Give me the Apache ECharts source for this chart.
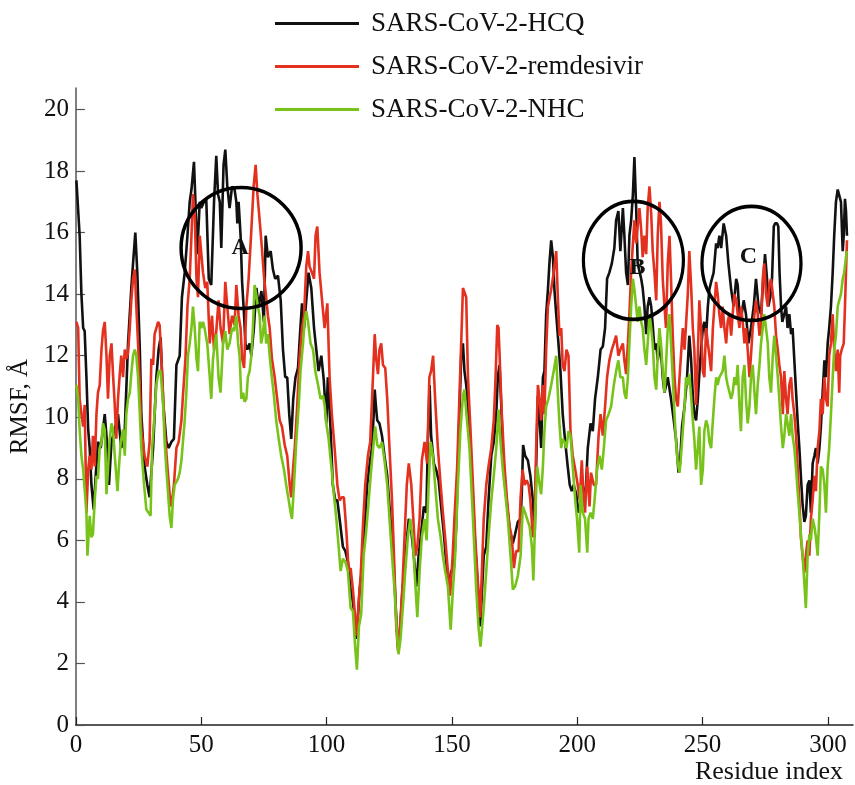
<!DOCTYPE html>
<html>
<head>
<meta charset="utf-8">
<title>RMSF</title>
<script src="https://cdn.jsdelivr.net/npm/echarts@6/dist/echarts.min.js"></script>
<style>
  html, body { margin: 0; padding: 0; background: #fff; }
  #chart { width: 855px; height: 785px; }
</style>
</head>
<body>
<div id="chart"></div>
<script>
// RMSF per residue as [residue, RMSF]
var hcq = [
  [0.2,17.7],[1.5,15.9],[2.2,14.0],[2.9,12.9],[3.5,12.8],[4.2,11.3],[4.9,9.6],[5.5,9.0],[6.2,7.8],[7.1,7.0],[7.9,8.1],[8.8,9.2],[9.9,9.0],[10.8,9.6],[11.5,10.1],[12.6,9.0],[13.2,7.8],[14.2,9.2],[15.5,9.6],[16.8,10.1],[18.1,9.0],[19.5,9.6],[20.8,12.4],[22.1,14.2],[22.8,15.0],[23.7,16.0],[24.5,14.7],[25.5,12.2],[26.1,10.1],[27.4,8.4],[28.5,7.8],[29.4,7.4],[30.8,9.0],[32.1,11.3],[33.0,12.2],[33.8,12.6],[34.8,10.5],[36.1,9.2],[37.0,9.0],[38.1,9.2],[39.1,9.3],[40.1,11.7],[41.4,12.0],[42.3,13.9],[43.4,14.7],[44.5,15.9],[45.4,17.0],[46.1,17.4],[47.1,18.3],[47.6,17.2],[48.4,15.3],[49.4,17.0],
  [50,16.8],[51.1,17.0],[52,17.1],[53,14.5],[54,14.3],[55.1,17.0],[56,18.5],[56.7,17.25],[57.4,17.0],[58,15.5],[58.9,18.2],[59.6,18.7],[60.4,17.5],[61.3,16.8],[62.3,17.5],[63.3,17.4],[64,17.0],[64.4,16.3],[64.9,17.0],[65.7,15.9],[66.3,14.4],[67.1,13.3],[67.6,12.4],[68.4,12.2],[69.3,12.4],[70,12.0],[71,12.9],[72,14.2],[72.9,13.6],[74,14.1],[75,13.1],[75.7,15.9],[76.6,15.2],[77.7,15.4],[78.6,14.8],[79.5,14.5],[80.6,14.6],[81.7,13.8],[82.6,12.2],[83.5,11.3],[84.3,11.3],[85.1,10.1],[85.9,9.3],[86.7,10.6],[87.6,11.3],[88.6,11.6],[89.4,12.7],[90.2,13.7],[91,12.9],[91.9,13.8],[92.8,14.7],[93.9,14.2],[95,12.9],[95.9,12.2],[96.8,11.5],[97.9,12.0],[98.9,11.2],[99.9,9.8],[100.5,11.3],[101.6,9.6],[102.5,7.8],[103.5,7.3],[104.3,7.3],[105.2,6.7],
  [106.5,5.8],[107.5,5.65],[108.5,5.3],[109.6,4.4],[110.5,4.0],[111.2,3.5],[111.8,2.8],[112.5,3.5],[113.2,4.4],[113.8,4.85],[114.5,5.5],[115.2,6.45],[116.2,7.8],[117.2,8.5],[118.1,9.0],[118.8,10.1],[119.2,10.9],[119.7,10.35],[120.2,9.9],[121.1,9.8],[122.1,9.4],[123.1,8.75],[124.2,8.1],[125.1,7.1],[126.1,6.1],[126.9,5.0],[127.8,3.5],[128.5,2.55],[129.3,3.0],[130.2,4.3],[131.1,5.0],[132.0,6.0],[132.8,6.7],[133.8,6.3],[134.8,5.5],[135.8,4.5],[136.7,5.5],[137.8,6.3],[138.8,7.1],[139.8,6.9],[140.4,9.2],[141.1,11.05],[141.7,9.4],[142.8,8.5],[143.7,8.3],[144.7,7.95],[145.7,7.1],[146.8,6.2],[147.7,5.3],[148.7,4.5],[149.7,5.0],[150.8,5.1],[151.7,6.45],[152.4,8.4],[153.0,10.1],[153.7,12.0],[154.4,12.4],[155.0,11.5],[155.7,11.05],[156.4,10.35],[157.4,9.0],[158.4,7.3],[159.3,5.8],[160.4,4.4],[161.3,3.2],
  [162.7,5.5],[163.7,5.8],[164.6,7.3],[165.7,8.75],[166.7,9.2],[167.7,10.1],[168.3,11.3],[169.0,11.7],[169.7,10.35],[170.3,9.0],[171.2,7.8],[172.3,6.9],[173.4,6.1],[174.3,5.9],[175.2,6.2],[176.3,6.6],[177.4,6.7],[177.9,7.6],[178.4,9.1],[179.2,8.75],[180.3,8.6],[181.3,8.1],[182.3,7.3],[183.0,6.1],[183.6,8.4],[184.3,10.7],[185.0,9.9],[185.6,9.0],[186.3,11.3],[186.9,11.5],[187.6,13.35],[188.3,14.15],[188.9,15.0],[189.6,15.75],[190.3,15.2],[190.9,14.15],[191.6,13.35],[192.5,12.4],[193.3,11.5],[194.2,10.1],[195.2,9.2],[196.2,8.4],[197.0,7.8],[197.8,7.6],[198.6,7.8],[199.6,7.5],[200.5,6.9],[201.6,7.3],[202.6,7.4],[203.5,7.8],[204.2,9.0],[205.3,9.8],[206.2,9.55],[207.1,10.6],[208.2,11.3],[209.3,12.2],[210.2,12.3],[211.1,12.9],[211.9,14.5],[212.8,14.7],[213.8,15.0],[214.8,15.5],[215.5,16.4],[216.4,16.7],[217.2,15.4],
  [218.2,16.8],[218.8,15.9],[219.5,14.7],[220.2,14.3],[220.8,15.9],[221.5,16.4],[222.2,17.25],[222.8,18.46],[223.5,16.8],[224.1,15.0],[224.8,15.0],[225.5,14.5],[226.1,14.2],[226.8,13.6],[227.5,12.7],[228.1,13.6],[228.8,13.9],[229.5,13.6],[230.1,13.0],[230.8,12.2],[231.5,12.4],[232.1,11.85],[233.2,12.4],[234.1,11.3],[234.8,10.8],[236.1,11.3],[237.4,10.6],[238.5,9.9],[239.4,9.3],[240.4,8.2],[241.0,8.5],[241.8,9.7],[242.8,10.35],[243.8,11.3],[244.7,12.65],[245.4,11.9],[246.1,10.7],[246.7,10.1],[247.4,9.9],[248.1,10.6],[248.7,11.4],[249.4,12.2],[250.1,12.9],[250.7,13.1],[251.4,12.65],[252.1,13.6],[252.7,14.15],[253.4,14.4],[254.4,14.7],[255.4,15.65],[256.0,15.5],[256.7,15.9],[257.4,15.5],[258.4,16.3],[259.4,15.9],[260.3,15.0],[261.4,14.15],[262.4,13.6],[263.4,14.5],[264.0,14.3],[264.8,13.2],[265.6,13.35],[266.4,13.8],[267.3,13.35],[268.3,12.4],[269.3,12.9],[270.4,13.6],[271.3,14.5],[272.3,13.6],
  [273.3,13.35],[274.4,14.7],[274.9,15.3],[275.7,14.5],[276.2,13.6],[277.0,13.9],[277.7,14.5],[278.4,16.2],[278.9,16.3],[279.7,16.3],[280.2,16.2],[280.7,14.7],[281.3,13.6],[281.8,13.1],[282.6,13.35],[283.3,13.6],[283.9,12.9],[284.6,13.35],[285.3,12.7],[285.9,12.9],[286.6,11.85],[287.3,10.8],[287.9,9.9],[288.6,9.0],[289.2,8.1],[289.9,7.15],[290.6,6.6],[291.2,6.8],[291.9,7.8],[292.6,7.95],[293.2,6.9],[293.9,8.5],[294.6,8.75],[295.2,9.0],[295.9,8.5],[296.6,9.0],[297.2,9.7],[297.9,10.8],[298.6,11.85],[299.2,11.3],[299.9,12.4],[300.5,12.9],[301.2,13.6],[301.9,14.7],[302.5,15.9],[303.2,17.0],[303.9,17.4],[304.5,17.4],[305.2,17.0],[305.9,15.4],[306.3,15.9],[306.8,17.1],[307.2,16.7],[307.6,15.9]
];

var remdesivir = [
  [0.2,13.1],[0.9,12.9],[1.5,10.6],[2.2,10.1],[2.9,9.7],[3.5,10.4],[4.2,6.9],[4.9,8.3],[5.5,8.75],[6.2,8.3],[6.8,9.4],[7.5,8.4],[8.2,10.1],[8.8,10.8],[9.5,11.05],[10.2,12.2],[10.8,12.8],[11.5,13.1],[12.2,12.0],[12.8,10.6],[13.5,12.0],[14.2,12.4],[14.8,11.4],[15.5,10.4],[16.1,9.3],[16.8,10.6],[17.5,11.4],[18.1,12.0],[18.8,11.3],[19.5,12.2],[20.1,11.9],[20.8,12.1],[21.5,12.9],[22.1,13.8],[22.8,14.5],[23.5,14.8],[24.1,13.6],[24.8,12.4],[25.5,11.05],[26.1,9.6],[27.4,8.75],[28.5,8.4],[29.4,9.2],[30.1,11.9],[30.8,11.7],[31.4,12.7],[32.1,12.9],[32.8,13.1],[33.4,13.0],[34.1,11.9],[34.8,10.7],[35.4,9.6],[36.5,8.4],[37.4,7.5],[38.1,7.1],[39.1,7.8],[40.1,9.0],[41.0,9.2],[42.1,9.9],[42.7,10.7],[43.7,11.9],[44.5,13.6],[45.4,14.5],[46.1,15.9],[46.7,17.25],[47.4,16.6],[48.1,14.5],[48.7,13.9],[49.4,15.9],
  [50,15.9],[50.7,14.7],[51.6,14.2],[52.4,14.4],[53.4,12.4],[54.3,13.3],[55.1,12.2],[56,12.8],[56.9,13.8],[57.7,12.9],[58.7,12.4],[59.6,14.4],[60.4,13.6],[61.3,12.7],[62.3,13.3],[63.3,13.0],[64,14.3],[64.9,13.3],[65.7,12.9],[66.3,11.9],[67.1,11.6],[68,13.6],[68.9,14.5],[70,16.1],[70.9,17.5],[71.7,18.2],[72.4,17.25],[73.3,16.4],[74.2,15.5],[75,14.6],[75.9,13.9],[76.6,13.3],[77.3,12.9],[78.2,11.9],[79.3,11.3],[80.3,10.6],[81.3,9.9],[82.2,9.7],[83.3,9.1],[84.3,8.75],[85.3,7.8],[85.9,7.4],[86.6,8.3],[87.3,9.0],[88.3,10.4],[89.2,11.9],[90.2,12.9],[91,13.3],[91.9,14.9],[92.6,15.4],[93.2,14.9],[94.2,14.7],[95,14.5],[95.6,15.9],[96.3,16.2],[97.2,14.7],[98.2,13.8],[99.2,12.9],[100.3,13.7],[101.2,11.3],[102.1,10.1],[103.2,9.0],[104.3,7.8],[105.2,7.3],
  [106.1,7.4],[106.9,7.4],[107.9,6.3],[108.8,5.0],[109.6,5.1],[110.5,4.4],[111.4,3.5],[112,2.9],[112.8,4.0],[113.6,4.85],[114.5,6.45],[115.4,7.8],[116.5,8.75],[117.4,9.2],[118.5,11.3],[119.2,12.7],[119.8,11.9],[120.5,11.4],[121.1,12.2],[121.8,12.4],[122.5,11.7],[123.4,11.6],[124.2,10.6],[125.1,9.0],[126.1,7.3],[126.9,5.5],[127.8,3.2],[128.5,2.4],[129.3,3.2],[130.2,4.4],[131.1,6.1],[132.0,7.8],[132.8,8.5],[133.8,7.8],[134.6,6.7],[135.4,5.5],[136.2,5.8],[137.1,6.7],[138.0,8.6],[139.1,9.2],[140.1,8.5],[141.0,11.3],[141.7,11.5],[142.5,12.0],[143.3,10.6],[144.4,9.0],[145.5,7.8],[146.4,6.9],[147.3,6.1],[148.4,5.0],[149.3,4.2],[150.3,5.5],[151.0,6.7],[152.1,8.4],[153.0,10.7],[153.7,12.4],[154.4,14.2],[155.0,14.15],[155.7,13.9],[156.4,11.3],[157.4,9.6],[158.4,7.8],[159.3,6.1],[160.4,4.6],[161.3,3.5],
  [162.7,6.7],[163.7,7.8],[164.6,8.4],[165.7,9.0],[166.7,9.9],[167.3,11.05],[168.1,13.0],[168.6,12.9],[169.1,11.85],[169.9,10.1],[171.0,8.4],[172.0,7.3],[173.0,6.45],[173.9,6.1],[174.7,5.1],[175.6,5.65],[176.6,5.65],[177.4,7.4],[178.2,8.3],[179.0,7.8],[179.8,7.95],[180.6,7.8],[181.3,7.3],[182.3,6.1],[183.0,6.7],[183.6,9.0],[184.3,11.05],[185.0,10.6],[185.6,9.9],[186.3,11.05],[186.9,10.1],[187.6,12.2],[188.3,13.6],[189.6,14.15],[190.6,14.7],[191.6,15.4],[192.3,13.8],[192.9,12.65],[193.6,12.9],[194.2,11.7],[194.9,11.5],[195.7,12.2],[196.5,12.0],[197.3,9.55],[198.2,8.75],[199.2,8.3],[200.2,7.8],[201.0,7.3],[201.8,8.6],[202.6,7.3],[203.1,6.9],[204.0,8.4],[204.9,7.1],[205.5,8.2],[206.6,7.8],[207.5,7.8],[208.5,9.4],[209.3,10.1],[210.2,9.4],[211.1,10.35],[211.9,11.3],[212.8,11.85],[213.8,12.2],[214.6,12.4],[215.5,12.65],[216.4,12.0],[217.2,12.2],
  [218.2,12.4],[218.8,11.85],[219.5,11.4],[220.2,12.4],[220.8,13.35],[221.5,14.7],[222.2,15.65],[222.8,16.4],[223.5,15.65],[224.1,16.2],[224.8,16.8],[225.5,16.1],[226.1,15.2],[226.8,15.9],[227.5,15.3],[228.1,16.8],[228.8,17.5],[229.5,16.6],[230.1,15.4],[230.8,14.7],[231.5,13.8],[232.1,15.9],[232.8,17.0],[233.4,16.3],[234.1,14.5],[234.8,13.6],[235.4,12.9],[236.1,15.0],[236.8,15.9],[237.4,14.5],[238.1,12.65],[238.8,11.3],[239.4,10.6],[240.1,10.35],[240.8,11.3],[241.4,11.3],[242.1,12.9],[242.8,12.2],[243.4,12.2],[244.1,14.0],[244.7,15.4],[245.4,14.3],[246.1,12.9],[246.7,12.2],[247.4,10.4],[248.1,12.0],[248.7,13.8],[249.4,12.9],[250.1,11.5],[250.7,11.3],[251.4,12.9],[252.1,12.4],[252.7,12.0],[253.4,11.5],[254.1,12.9],[254.7,13.6],[255.4,14.4],[256.0,14.0],[256.7,13.35],[257.4,12.9],[258.0,13.6],[258.7,12.9],[259.4,12.4],[260.0,13.1],[260.7,13.35],[261.4,12.65],[262.0,13.35],[262.7,14.0],[263.4,13.8],[264.0,13.35],[264.7,12.9],[265.3,13.6],[266.0,13.1],[266.7,12.4],[267.3,12.9],[268.0,12.2],[268.7,11.3],[269.3,12.0],[270.0,12.9],[270.7,13.35],[271.3,13.8],[272.0,13.35],[272.7,12.65],
  [273.3,12.9],[274.0,14.5],[274.6,15.0],[275.3,14.0],[276.0,13.6],[276.6,14.3],[277.3,14.5],[278.0,14.0],[278.6,13.6],[279.3,12.65],[280.0,12.2],[280.6,11.7],[281.3,11.3],[282.0,10.1],[282.6,11.5],[283.3,10.6],[283.9,10.1],[284.6,11.05],[285.3,11.3],[285.9,10.6],[286.6,10.1],[287.3,9.4],[287.9,8.4],[288.6,7.3],[289.2,6.1],[289.9,5.5],[290.6,4.95],[291.2,5.5],[291.9,6.0],[292.6,5.5],[293.2,6.7],[293.9,7.3],[294.6,8.1],[295.2,7.6],[295.9,9.0],[296.6,9.55],[297.2,10.6],[297.9,10.1],[298.6,11.3],[299.2,10.6],[299.9,10.35],[300.5,12.0],[301.2,12.4],[301.9,13.35],[302.5,12.2],[303.2,11.5],[303.9,12.2],[304.5,10.8],[304.9,12.0],[305.5,12.2],[306.3,12.4],[306.8,13.6],[307.2,14.7],[307.6,15.75]
];

var nhc = [
  [0.2,11.05],[0.9,10.6],[1.5,9.6],[2.2,8.75],[2.9,8.3],[3.5,8.3],[4.2,6.9],[4.6,5.5],[5.5,6.8],[6.2,6.1],[6.8,6.2],[7.5,7.3],[8.2,8.1],[8.8,8.0],[9.5,9.0],[10.2,9.2],[10.8,9.8],[11.5,9.6],[12.2,7.5],[12.8,8.3],[13.5,9.3],[14.2,9.8],[14.8,9.6],[15.5,8.75],[16.6,7.6],[17.1,8.3],[17.9,9.2],[18.8,9.6],[19.5,8.75],[20.1,10.1],[20.8,10.6],[21.5,10.8],[22.1,11.4],[22.8,12.0],[23.5,12.2],[24.1,12.0],[24.8,11.3],[25.5,10.1],[26.1,9.0],[27.2,7.8],[28.1,7.0],[29.0,6.9],[29.8,6.8],[30.4,9.0],[31.2,9.9],[32.1,11.05],[33.0,11.5],[33.8,11.5],[34.8,10.4],[35.4,9.2],[36.1,8.3],[36.8,7.5],[37.4,6.8],[38.1,6.4],[38.7,7.3],[39.4,7.8],[40.1,7.9],[40.7,8.0],[41.4,8.2],[42.1,8.6],[42.7,9.2],[43.4,9.9],[44.0,10.7],[44.7,12.0],[45.4,12.4],[46.1,12.9],[46.7,13.6],[47.4,12.9],[48.1,11.9],[48.7,11.5],[49.4,13.1],
  [50,12.9],[50.7,13.1],[51.3,12.9],[52.4,12.4],[53.4,11.3],[54,10.6],[54.7,11.9],[55.4,12.4],[56,12.7],[56.9,11.3],[57.7,10.8],[58.7,12.4],[59.6,12.8],[60.4,12.2],[61.3,12.4],[62.3,12.9],[63.1,12.8],[64,13.3],[64.7,12.4],[65.3,12.0],[66,10.6],[66.7,10.8],[67.3,10.5],[68,10.6],[68.6,11.3],[69.3,11.5],[70,12.0],[70.6,12.9],[71.3,14.3],[71.9,14.0],[72.6,13.6],[73.3,13.3],[73.9,12.4],[74.6,12.7],[75.3,13.3],[75.9,12.4],[76.6,12.7],[77.3,12.0],[77.9,11.5],[79,10.7],[79.9,9.9],[80.9,9.3],[81.9,8.75],[83,8.3],[83.9,7.8],[84.9,7.3],[85.7,6.9],[86.2,6.7],[87,7.8],[87.9,9.2],[88.9,10.4],[89.6,11.5],[90.6,12.4],[91.2,13.1],[91.9,13.45],[92.6,13.1],[93.6,12.4],[94.6,12.2],[95.5,11.5],[96.6,11.05],[97.6,10.6],[98.6,10.7],[99.2,10.4],[99.9,9.8],[100.8,9.3],[101.9,8.4],[102.9,7.5],[103.9,6.7],[104.8,5.8],[105.6,5.0],
  [106.5,5.4],[107.5,5.3],[108.5,5.0],[109.6,3.8],[110.5,3.7],[111.4,2.55],[112.1,1.8],[112.9,3.2],[113.8,3.6],[114.8,5.5],[115.8,6.3],[116.8,7.3],[117.8,8.3],[118.8,9.2],[119.4,9.7],[120.2,9.1],[121.1,9.0],[122.1,9.2],[123.1,8.6],[124.2,7.8],[125.1,6.7],[126.1,5.5],[127.1,4.4],[127.9,3.2],[128.7,2.3],[129.5,2.8],[130.4,3.8],[131.4,5.0],[132.4,6.1],[133.4,6.7],[134.3,6.1],[135.1,5.0],[136.2,3.5],[137.1,5.0],[138.0,6.1],[139.1,6.7],[139.9,6.0],[140.7,7.8],[141.5,9.2],[142.4,8.75],[143.3,7.8],[144.4,6.7],[145.5,6.1],[146.4,5.5],[147.3,5.0],[148.4,4.5],[149.5,3.1],[150.4,4.4],[151.3,5.5],[152.4,7.8],[153.4,9.6],[154.4,10.7],[155.0,10.9],[155.8,10.1],[157.0,9.0],[158.4,6.7],[159.7,4.4],[160.6,3.2],[161.4,2.55],
  [162.7,3.8],[163.7,5.0],[164.6,6.1],[165.7,7.3],[166.7,8.1],[167.7,9.0],[168.6,10.25],[169.4,9.2],[170.3,8.3],[171.2,7.6],[172.3,6.7],[173.4,5.5],[174.3,4.4],[175.2,4.5],[176.3,4.85],[177.4,5.5],[178.3,7.1],[179.2,6.9],[180.0,6.7],[181.0,6.45],[181.9,5.8],[182.5,4.7],[183.2,6.7],[184.0,8.4],[185.0,7.8],[185.6,7.5],[186.3,8.4],[186.9,9.55],[187.6,10.35],[188.5,10.6],[189.6,11.05],[190.6,11.5],[191.6,12.0],[192.3,10.7],[192.9,9.8],[193.6,9.0],[194.2,9.3],[194.9,9.2],[195.7,9.0],[196.5,9.55],[197.3,9.4],[198.2,8.4],[199.2,7.3],[199.9,6.7],[200.8,5.6],[201.3,7.8],[202.2,6.9],[203.1,6.7],[204.0,5.6],[204.5,6.7],[205.3,6.9],[206.2,6.7],[206.9,7.3],[207.9,8.3],[208.9,8.75],[209.8,8.3],[210.6,9.0],[211.5,9.9],[212.5,10.1],[213.5,10.35],[214.6,11.05],[215.5,11.5],[216.4,11.85],[217.2,11.3],
  [218.2,11.3],[218.8,10.8],[219.5,10.6],[220.2,11.3],[220.8,12.4],[221.5,13.6],[222.2,14.5],[222.8,14.15],[223.5,13.6],[224.1,13.1],[224.8,13.6],[225.5,13.1],[226.1,12.9],[226.8,12.2],[227.5,11.7],[228.1,12.4],[228.8,13.35],[229.5,12.9],[230.1,12.4],[230.8,11.3],[231.5,10.9],[232.1,12.0],[232.8,12.9],[233.4,12.4],[234.1,11.5],[234.8,10.8],[235.4,11.7],[236.1,12.9],[236.8,13.35],[237.4,12.4],[238.1,11.3],[238.8,10.1],[239.4,9.2],[240.1,8.5],[240.8,8.2],[241.4,8.75],[242.1,9.55],[242.8,10.35],[243.4,11.3],[244.1,11.05],[244.7,11.4],[245.4,10.7],[246.1,9.9],[246.7,9.3],[247.4,8.3],[248.1,9.0],[248.7,9.7],[249.4,7.8],[250.1,8.3],[250.7,9.55],[251.4,9.9],[252.1,9.7],[252.7,9.2],[253.4,9.0],[254.1,9.9],[254.7,10.6],[255.4,11.3],[256.0,11.05],[256.7,11.3],[257.4,11.3],[258.0,11.5],[258.7,12.0],[259.4,11.3],[260.0,11.05],[260.7,11.05],[261.4,10.6],[262.0,10.8],[262.7,11.3],[263.4,11.05],[264.0,11.7],[264.7,10.35],[265.3,9.55],[266.0,11.3],[266.7,11.7],[267.3,10.6],[268.0,9.8],[268.7,10.35],[269.3,11.3],[270.0,11.7],[270.7,10.8],[271.3,10.1],[272.0,11.05],[272.7,11.7],
  [273.3,12.4],[274.0,12.9],[274.6,13.35],[275.3,12.9],[276.0,12.4],[276.6,11.3],[277.3,10.8],[278.0,12.0],[278.6,12.65],[279.3,12.0],[280.0,11.3],[280.6,10.6],[281.3,9.7],[282.0,9.0],[282.6,9.4],[283.3,10.1],[283.9,9.8],[284.6,9.4],[285.3,10.1],[285.9,9.4],[286.6,9.0],[287.3,8.3],[287.9,7.6],[288.6,6.9],[289.2,6.2],[289.9,5.5],[290.6,4.6],[291.2,3.8],[291.9,5.5],[292.6,6.2],[293.2,6.0],[293.9,6.7],[294.6,6.45],[295.2,6.1],[295.9,5.5],[296.6,6.9],[297.2,8.4],[297.9,8.3],[298.6,7.8],[299.2,6.9],[299.9,8.4],[300.5,9.0],[301.2,10.1],[301.9,11.3],[302.5,12.2],[303.2,12.65],[303.9,13.6],[304.5,13.8],[305.2,14.0],[305.9,14.5],[306.5,14.7],[307.2,15.2],[307.6,15.4]
];

var seriesNames = ['SARS-CoV-2-HCQ', 'SARS-CoV-2-remdesivir', 'SARS-CoV-2-NHC'];
var xTicks = [0, 50, 100, 150, 200, 250, 300];
var yTicks = [0, 2, 4, 6, 8, 10, 12, 14, 16, 18, 20];

// highlighted regions: label, residue, RMSF at the centre
var regionLabels = ['A', 'B', 'C'];
var regionCenters = [[65.9, 15.5], [222.4, 15.1], [269.5, 15.0]];

var serif = 'Liberation Serif';
var colors = ['#111111', '#e3301f', '#78c31a'];
var ringSize = [[120, 121], [100, 118], [99, 114]];
var ringLabelOffset = [[-1, 0], [4, 7], [-3, -7]];

var chart = echarts.init(document.getElementById('chart'));

var lineData = [hcq, remdesivir, nhc];
var series = [];
for (var i = 0; i < 3; i++) {
  series.push({
    name: seriesNames[i],
    type: 'line',
    data: lineData[i],
    showSymbol: false,
    symbol: 'none',
    lineStyle: { color: colors[i], width: 2.6 },
    itemStyle: { color: colors[i] },
    z: 2 + i
  });
}

var rings = [];
for (var j = 0; j < regionLabels.length; j++) {
  rings.push({
    name: regionLabels[j],
    value: regionCenters[j],
    symbolSize: ringSize[j],
    label: { offset: ringLabelOffset[j] }
  });
}
series.push({
  type: 'scatter',
  data: rings,
  symbol: 'circle',
  itemStyle: { color: 'rgba(0,0,0,0)', borderColor: '#000', borderWidth: 3.5, opacity: 1 },
  label: {
    show: true,
    position: 'inside',
    formatter: '{b}',
    fontFamily: serif,
    fontSize: 24,
    fontWeight: 'bold',
    color: '#111'
  },
  silent: true,
  z: 10
});

chart.setOption({
  animation: false,
  backgroundColor: '#fff',
  legend: {
    data: seriesNames,
    orient: 'vertical',
    left: 270,
    top: 5,
    icon: 'rect',
    itemWidth: 84,
    itemHeight: 3,
    itemGap: 16,
    textStyle: {
      fontFamily: serif,
      fontSize: 27,
      lineHeight: 27,
      color: '#111',
      padding: [0, 0, 0, 7]
    }
  },
  grid: { left: 74, right: 2, top: 88, bottom: 55 },
  xAxis: {
    type: 'value',
    min: 0,
    max: 310,
    interval: 50,
    name: 'Residue index',
    nameLocation: 'end',
    nameGap: -10,
    nameTextStyle: {
      fontFamily: serif,
      fontSize: 26,
      color: '#111',
      align: 'right',
      verticalAlign: 'top',
      padding: [34, 0, 0, 0]
    },
    splitLine: { show: false },
    axisLine: { lineStyle: { color: '#222', width: 1.5 } },
    axisTick: { inside: true, length: 8, customValues: xTicks, lineStyle: { color: '#222', width: 1.2 } },
    axisLabel: {
      customValues: xTicks,
      margin: 8,
      fontFamily: serif,
      fontSize: 25,
      color: '#111'
    }
  },
  yAxis: {
    type: 'value',
    min: 0,
    max: 20.7,
    interval: 2,
    name: 'RMSF, Å',
    nameLocation: 'middle',
    nameGap: 38,
    nameTextStyle: { fontFamily: serif, fontSize: 25, color: '#111' },
    splitLine: { show: false },
    axisLine: { show: true, lineStyle: { color: '#555', width: 1.5 } },
    axisTick: { show: true, inside: true, length: 9, customValues: yTicks, lineStyle: { color: '#555', width: 1.2 } },
    axisLabel: {
      customValues: yTicks,
      margin: 7,
      fontFamily: serif,
      fontSize: 25,
      color: '#111'
    }
  },
  series: series
});
</script>
</body>
</html>
